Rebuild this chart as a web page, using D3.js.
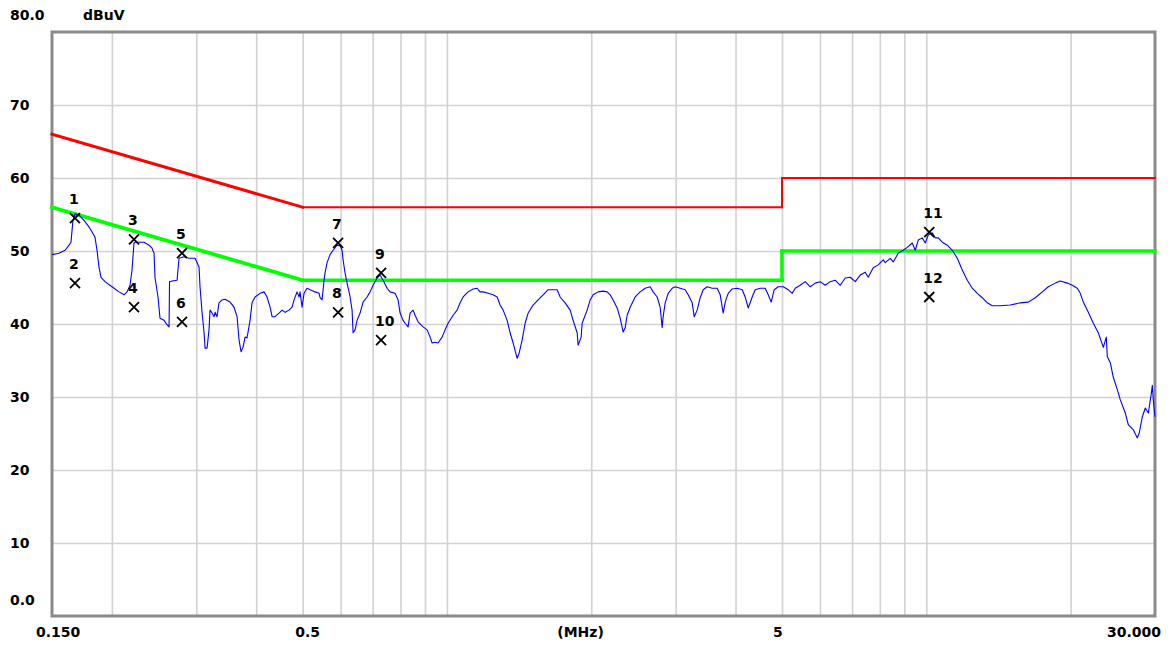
<!DOCTYPE html>
<html>
<head>
<meta charset="utf-8">
<script src="https://cdn.jsdelivr.net/npm/d3@7"></script>
<style>
  html, body { margin: 0; padding: 0; background: #ffffff; }
  svg { display: block; }
  text { font-family: "DejaVu Sans", sans-serif; font-weight: bold; font-size: 14px; fill: #000; }
</style>
</head>
<body>
<svg id="chart" width="1173" height="646"></svg>
<script>
// ---------------- DATA ----------------
const yTickValues = [0, 10, 20, 30, 40, 50, 60, 70];
const yTickLabels = ["0.0", "10", "20", "30", "40", "50", "60", "70"];
const yTopLabel = "80.0";
const yUnit = "dBuV";
const xGridValues = [0.2, 0.3, 0.4, 0.5, 0.6, 0.7, 0.8, 0.9, 1, 2, 3, 4, 5, 6, 7, 8, 9, 10, 20];
const xTickValues = [0.15, 0.5, 5, 30];
const xTickLabels = ["0.150", "0.5", "5", "30.000"];
const xUnit = "(MHz)";
const xUnitAt = 1.9;

// limit lines (MHz, dBuV)
const qpLimitFreq = [0.15, 0.5, 5, 5, 30];
const qpLimitDb   = [66, 56, 56, 60, 60];
const avLimitFreq = [0.15, 0.5, 5, 5, 30];
const avLimitDb   = [56, 46, 46, 50, 50];

// measured trace
const traceFreq = [
 0.150,0.1551,0.1597,0.1628,0.1643,0.1659,0.1675,0.1708,0.1749,0.1792,0.1818,0.1844,0.1862,0.1880,0.1898,0.1935,
 0.2001,0.2070,0.2120,0.2151,0.2182,0.2203,0.2224,0.2235,0.2278,0.2334,0.2391,0.2425,0.2449,0.2460,0.2496,0.2520,
 0.2569,0.2606,0.2632,0.2638,0.2670,0.2735,0.2761,0.2828,0.2897,0.2982,0.3040,0.3054,0.3084,0.3114,0.3129,0.3159,
 0.3189,0.3205,0.3236,0.3267,0.3283,0.3314,0.3346,0.3395,0.3444,0.3528,0.3596,0.3649,0.3684,0.3719,0.3755,0.3792,
 0.3828,0.3884,0.3921,0.3978,0.4075,0.4154,0.4214,0.4276,0.4317,0.4379,0.4465,0.4529,0.4595,0.4684,0.4752,0.4798,
 0.4868,0.4915,0.4938,0.4986,0.5034,0.5107,0.5182,0.5307,0.5411,0.5437,0.5489,0.5542,0.5569,0.5623,0.5704,0.5787,
 0.5899,0.5985,0.6043,0.6072,0.6130,0.6190,0.6280,0.6340,0.6371,0.6432,0.6494,0.6589,0.6684,0.6814,0.6913,0.7013,
 0.7149,0.7253,0.7359,0.7501,0.7610,0.7795,0.7909,0.7985,0.8101,0.8179,0.8298,0.8378,0.8499,0.8581,0.8706,0.8918,
 0.9091,0.9223,0.9312,0.9447,0.9584,0.9770,0.9912,1.0056,1.0301,1.0500,1.0653,1.0808,1.1071,1.1340,1.1560,1.1728,
 1.1898,1.2187,1.2483,1.2726,1.2911,1.3098,1.3352,1.3546,1.3743,1.4009,1.4145,1.4350,1.4558,1.4770,1.5129,1.5497,
 1.5874,1.6260,1.6655,1.6978,1.7225,1.7643,1.8073,1.8335,1.8691,1.8781,1.9053,1.9145,1.9611,1.9896,2.0184,2.0675,
 2.1178,2.1589,2.1902,2.2220,2.2651,2.2980,2.3314,2.3539,2.3766,2.4112,2.4698,2.5298,2.5913,2.6544,2.6929,2.7451,
 2.7850,2.8119,2.8255,2.8527,2.8942,2.9503,2.9931,3.0660,3.1405,3.1861,3.2479,3.2793,3.3269,3.3752,3.4242,3.4907,
 3.5756,3.6625,3.7157,3.7696,3.8060,3.8613,3.9362,4.0319,4.1300,4.1899,4.2508,4.3333,4.3961,4.5031,4.6125,4.6796,
 4.7474,4.8164,4.9099,5.0293,5.1516,5.2515,5.3277,5.4573,5.5899,5.7260,5.8651,6.0078,6.1538,6.3035,6.4567,6.6138,
 6.7745,6.9394,7.1080,7.2810,7.4579,7.5664,7.7503,7.9388,8.1318,8.2102,8.4099,8.5320,8.7396,8.9520,9.1257,9.3477,
 9.4832,9.6211,9.8078,9.9500,10.095,10.290,10.440,10.592,10.797,11.060,11.329,11.604,11.886,12.175,12.471,12.775,
 13.085,13.403,13.729,14.267,14.970,15.706,16.322,16.880,17.458,17.969,18.583,19.035,19.686,20.165,20.655,20.955,
 21.259,21.776,22.306,22.848,23.404,23.742,23.858,24.204,24.556,25.032,25.396,26.013,26.391,27.032,27.557,27.824,
 28.227,28.637,29.053,29.474,29.617,29.759,30.0
];
const traceDb = [
 49.5,49.7,50.1,50.8,51.2,54.2,55.1,54.9,54.2,53.3,52.6,51.9,50.1,47.8,46.4,45.8,
 45.1,44.4,44.0,44.4,45.3,47.4,51.1,51.2,51.2,51.2,50.8,50.4,49.7,46.4,43.7,40.8,
 40.5,39.9,39.6,45.8,45.9,46.0,49.0,49.2,49.0,49.0,47.8,45.1,41.6,38.8,36.7,36.7,
 39.2,41.9,41.5,41.0,41.6,41.0,42.9,43.3,43.4,43.0,42.3,41.0,37.8,36.2,36.8,38.2,
 38.1,40.5,42.9,43.7,44.2,44.4,43.7,42.3,41.0,41.0,41.5,41.9,41.6,41.9,42.3,43.3,
 44.4,43.7,44.4,42.3,44.2,44.9,44.7,44.4,44.2,43.6,43.3,46.0,47.0,48.4,49.5,50.1,
 50.8,50.7,50.1,48.8,47.0,45.6,43.7,41.9,38.8,39.2,40.5,41.5,43.0,43.7,44.4,45.3,
 46.3,46.7,46.0,44.9,44.4,44.2,43.3,41.5,40.5,40.1,39.6,41.5,41.9,41.2,40.3,39.6,
 39.2,38.2,37.4,37.5,37.4,38.2,39.2,40.1,41.2,41.9,42.9,43.7,44.4,44.8,44.9,44.4,
 44.4,44.2,44.0,43.7,42.6,41.9,40.5,38.8,37.4,35.3,36.0,37.8,40.1,41.5,42.6,43.3,
 44.0,44.7,44.7,44.7,43.7,42.9,41.9,40.5,38.8,37.1,38.2,40.1,41.9,43.3,44.0,44.4,
 44.5,44.4,44.0,43.3,42.2,40.8,38.9,39.5,41.2,42.3,43.7,44.4,44.9,45.1,44.4,43.7,
 42.3,39.5,41.0,42.9,44.2,44.9,45.1,44.9,44.7,44.0,42.9,41.0,41.9,43.6,44.7,45.1,
 44.9,44.9,44.0,41.5,43.0,44.2,44.8,44.9,44.7,43.7,42.2,43.7,44.7,44.9,44.9,44.0,
 43.0,44.7,45.1,45.1,44.7,44.2,44.9,45.3,45.8,45.1,45.6,45.8,45.3,45.8,46.0,45.3,
 46.3,46.4,45.8,46.7,47.1,46.4,47.7,48.1,48.8,48.4,49.0,48.5,49.7,50.1,50.5,51.1,
 50.1,51.5,51.8,51.1,52.2,52.5,51.8,51.8,51.2,50.8,50.1,49.0,47.4,46.0,44.9,44.2,
 43.6,42.9,42.5,42.5,42.6,42.9,43.0,43.6,44.4,45.1,45.6,45.9,45.6,45.3,44.9,44.2,
 43.0,41.6,40.1,38.8,36.8,38.2,35.5,34.7,32.7,31.0,29.6,27.8,26.2,25.5,24.4,25.1,
 27.3,28.5,27.8,30.5,31.6,29.6,27.3
];

// markers
const markerIds  = ["1", "2", "3", "4", "5", "6", "7", "8", "9", "10", "11", "12"];
const markerFreq = [0.1675, 0.1675, 0.2224, 0.2224, 0.2801, 0.2801, 0.5928, 0.5928, 0.7288, 0.7288, 10.143, 10.143];
const markerDb   = [54.5, 45.6, 51.6, 42.3, 49.7, 40.3, 51.1, 41.6, 47.0, 37.8, 52.6, 43.7];

// ---------------- DRAW ----------------
const svg = d3.select("#chart");
const pLeft = 52, pRight = 1155, pTop = 32, pBottom = 616;
const x = d3.scaleLog().domain([0.15, 30]).range([pLeft, pRight]);
const y = d3.scaleLinear().domain([0, 80]).range([pBottom, pTop]);

// grid via axes
const gx = svg.append("g").attr("transform", `translate(0,${pBottom})`)
  .call(d3.axisBottom(x).tickValues(xGridValues).tickSize(-(pBottom - pTop)).tickFormat(""));
const gy = svg.append("g").attr("transform", `translate(${pLeft},0)`)
  .call(d3.axisLeft(y).tickValues(yTickValues.filter(v => v > 0)).tickSize(-(pRight - pLeft)).tickFormat(""));
[gx, gy].forEach(g => {
  g.select(".domain").remove();
  g.selectAll(".tick line").attr("stroke", "#d2d2d2").attr("stroke-width", 1.6);
});

// frame
svg.append("rect").attr("x", pLeft).attr("y", pTop)
  .attr("width", pRight - pLeft).attr("height", pBottom - pTop)
  .attr("fill", "none").attr("stroke", "#8a8a8a").attr("stroke-width", 3);

// y labels
svg.append("g").selectAll("text").data(yTickValues).join("text")
  .attr("x", 10)
  .attr("y", d => y(d) + (d === 0 ? -16 : 0))
  .attr("dy", "0.36em")
  .text((d, i) => yTickLabels[i]);
svg.append("text").attr("x", 10).attr("y", 15).attr("dy", "0.36em").text(yTopLabel);
svg.append("text").attr("x", 83).attr("y", 15).attr("dy", "0.36em").text(yUnit);

// x labels
const xLabelShift = [-16, 5, -4, 6];
const xLabelAnchor = ["start", "middle", "middle", "end"];
svg.append("g").selectAll("text").data(xTickValues).join("text")
  .attr("x", (d, i) => x(d) + xLabelShift[i])
  .attr("y", 632).attr("dy", "0.36em")
  .attr("text-anchor", (d, i) => xLabelAnchor[i])
  .text((d, i) => xTickLabels[i]);
svg.append("text").attr("x", x(xUnitAt)).attr("y", 632).attr("dy", "0.36em")
  .attr("text-anchor", "middle").text(xUnit);

// limit lines (segment-wise so the sloped part can be a little heavier, as in the original)
function drawLimit(freqs, dbs, color, flatW, slopeW) {
  const segs = d3.pairs(freqs.map((f, i) => [f, dbs[i]]));
  svg.append("g").selectAll("line").data(segs).join("line")
    .attr("x1", d => x(d[0][0])).attr("y1", d => y(d[0][1]))
    .attr("x2", d => x(d[1][0])).attr("y2", d => y(d[1][1]))
    .attr("stroke", color)
    .attr("stroke-linecap", "square")
    .attr("stroke-width", d => (d[0][0] !== d[1][0] && d[0][1] !== d[1][1]) ? slopeW : flatW);
}
drawLimit(qpLimitFreq, qpLimitDb, "#ff0000", 2, 3);
drawLimit(avLimitFreq, avLimitDb, "#00ff00", 3.6, 3.8);

// trace
const lineGen = d3.line().x(d => x(d[0])).y(d => y(d[1]));
svg.append("path").datum(traceFreq.map((f, i) => [f, traceDb[i]]))
  .attr("d", lineGen).attr("fill", "none").attr("stroke", "#0000ff").attr("stroke-width", 1.1)
  .attr("stroke-linejoin", "round");

// markers
const mk = svg.append("g").selectAll("g").data(markerIds).join("g")
  .attr("transform", (d, i) => `translate(${x(markerFreq[i])},${y(markerDb[i])})`);
mk.append("path").attr("d", "M-5,-5L5,5M-5,5L5,-5")
  .attr("stroke", "#000").attr("stroke-width", 1.8).attr("fill", "none");
mk.append("text").attr("x", -6).attr("y", -14).text(d => d);
</script>
</body>
</html>
